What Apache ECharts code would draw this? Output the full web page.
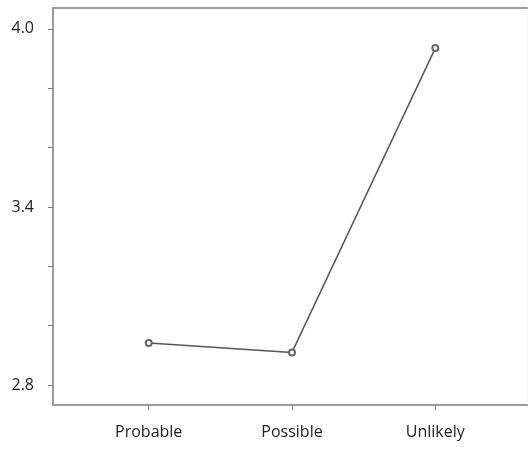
<!DOCTYPE html>
<html>
<head>
<meta charset="utf-8">
<script src="https://cdn.jsdelivr.net/npm/echarts@6/dist/echarts.min.js"></script>
<style>html,body{margin:0;padding:0;background:#fff}#c{width:528px;height:450px}</style>
</head>
<body>
<div id="c"></div>
<script>
const categories = ["Probable", "Possible", "Unlikely"];
const values = [2.942, 2.910, 3.935];
const yTicks = [2.8, 3.0, 3.2, 3.4, 3.6, 3.8, 4.0];
const yLabels = [2.8, 3.4, 4.0];

const chart = echarts.init(document.getElementById('c'), null, {renderer: 'canvas'});
const xPos = categories.map((c, i) => i + 1);
chart.setOption({
  animation: false,
  grid: {left: 53, top: 8, right: 1, bottom: 45, show: true, borderColor: '#efefef', borderWidth: 1},
  xAxis: [{
    type: 'value', min: 0.332, max: 3.64, position: 'bottom',
    splitLine: {show: false},
    axisLine: {show: true, lineStyle: {color: '#9a9a9a', width: 2}},
    axisTick: {show: true, customValues: xPos, length: 5, lineStyle: {color: '#888'}},
    axisLabel: {customValues: xPos, formatter: v => categories[Math.round(v) - 1], margin: 19,
      color: '#222', fontSize: 16, fontFamily: 'Open Sans'}
  }, {
    type: 'value', min: 0.332, max: 3.64, position: 'top',
    splitLine: {show: false},
    axisLine: {show: true, lineStyle: {color: '#9a9a9a', width: 2}},
    axisTick: {show: false}, axisLabel: {show: false}
  }],
  yAxis: {
    type: 'value', min: 2.733, max: 4.07,
    splitLine: {show: false},
    axisLine: {show: true, lineStyle: {color: '#9a9a9a', width: 2}},
    axisTick: {show: true, customValues: yTicks, length: 5, lineStyle: {color: '#777'}},
    axisLabel: {customValues: yLabels, formatter: v => v.toFixed(1), margin: 19,
      color: '#222', fontSize: 16, fontFamily: 'Open Sans'}
  },
  series: [{
    type: 'line',
    data: xPos.map((x, i) => [x, values[i]]),
    symbol: 'emptyCircle', symbolSize: 6,
    lineStyle: {color: '#555', width: 1.5},
    itemStyle: {color: '#666', borderWidth: 1.2}
  }]
});
</script>
</body>
</html>
